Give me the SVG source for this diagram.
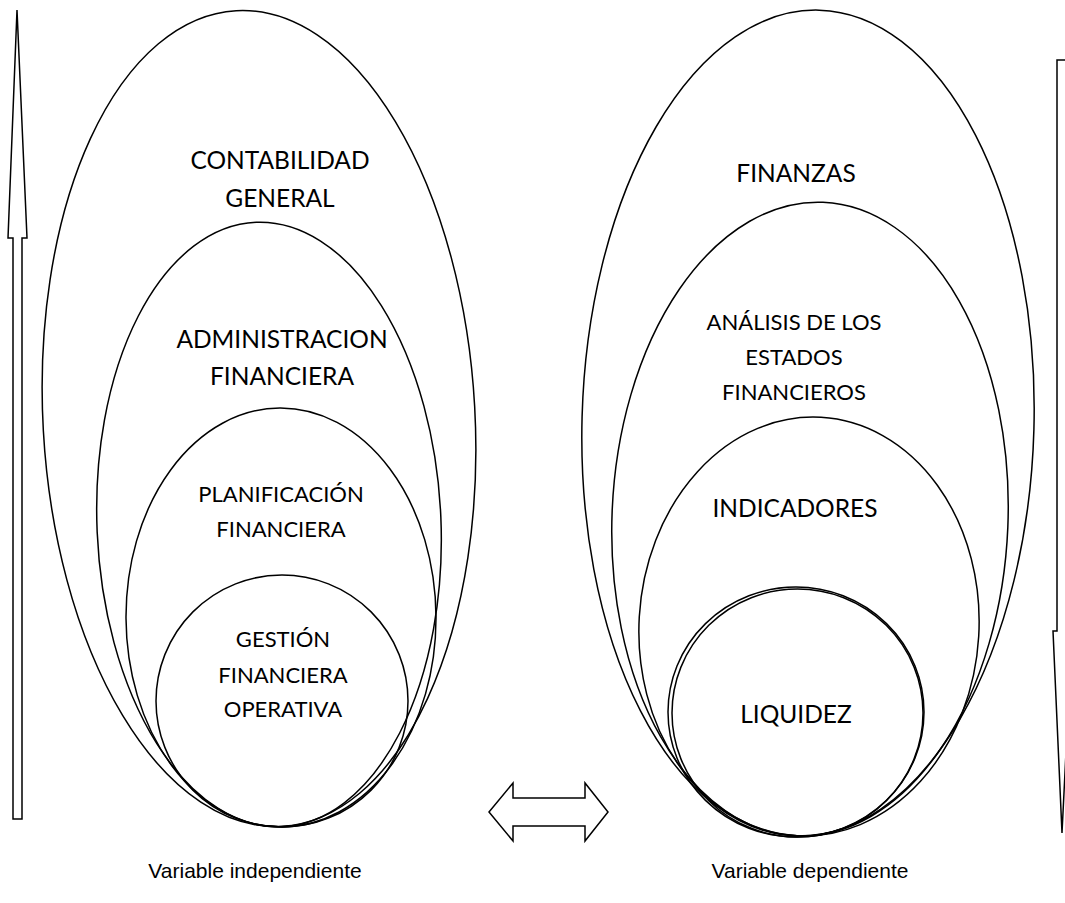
<svg xmlns="http://www.w3.org/2000/svg" width="1065" height="903" viewBox="0 0 1065 903">
<style>
.e{fill:none;stroke:#000;stroke-width:1.5}
.a{fill:#fff;stroke:#000;stroke-width:1.5;stroke-linejoin:miter}
.t{font-family:Lato,"Open Sans",sans-serif;fill:#000;text-anchor:middle}
.L{font-size:24.5px}
.S{font-size:22px}
.v{font-family:"Liberation Sans",Arial,sans-serif;font-size:21px;fill:#000;text-anchor:middle}
</style>
<rect width="1065" height="903" fill="#fff"/>
<g id="connectors">
<path class="a" d="M17,10 L27,238 L22,238 L22,819 L13,819 L13,238 L8,238 Z"/>
<path class="a" d="M1057,60 L1068,60 L1068,631 L1072,631 L1062,833 L1053,631 L1057,631 Z"/>
<path class="a" d="M489,812 L513,783 L513,798 L585,798 L585,783 L608,812 L585,841 L585,826 L513,826 L513,841 Z"/>
</g>
<g id="contabilidad">
<ellipse class="e" cx="259" cy="418.5" rx="216" ry="408.5" transform="rotate(-3.2 259 418.5)"/>
<text class="t L" x="280" y="169">CONTABILIDAD</text>
<text class="t L" x="280" y="207">GENERAL</text>
</g>
<g id="administracion">
<ellipse class="e" cx="269" cy="524.5" rx="172" ry="302.5" transform="rotate(-2.46 269 524.5)"/>
<text class="t L" x="282" y="348">ADMINISTRACION</text>
<text class="t L" x="282" y="385">FINANCIERA</text>
</g>
<g id="planificacion">
<ellipse class="e" cx="281" cy="617.5" rx="155" ry="209.5" transform="rotate(-0.3 281 617.5)"/>
<text class="t S" x="281" y="502">PLANIFICACIÓN</text>
<text class="t S" x="281" y="537">FINANCIERA</text>
</g>
<g id="gestion">
<circle class="e" cx="282" cy="701" r="126"/>
<text class="t S" x="283" y="647">GESTIÓN</text>
<text class="t S" x="283" y="683">FINANCIERA</text>
<text class="t S" x="283" y="717">OPERATIVA</text>
</g>
<g id="finanzas">
<ellipse class="e" cx="808" cy="423" rx="226" ry="413" transform="rotate(1.55 808 423)"/>
<text class="t L" x="796" y="182">FINANZAS</text>
</g>
<g id="analisis">
<ellipse class="e" cx="810" cy="519" rx="198" ry="317" transform="rotate(2.35 810 519)"/>
<text class="t S" x="794" y="330">ANÁLISIS DE LOS</text>
<text class="t S" x="794" y="365">ESTADOS</text>
<text class="t S" x="794" y="400">FINANCIEROS</text>
</g>
<g id="indicadores">
<ellipse class="e" cx="809" cy="626.5" rx="170" ry="209.5" transform="rotate(3.3 809 626.5)"/>
<text class="t L" x="795" y="517">INDICADORES</text>
</g>
<g id="liquidez">
<ellipse class="e" cx="796" cy="712" rx="128" ry="125"/>
<ellipse class="e" cx="797.5" cy="713" rx="125.5" ry="124"/>
<text class="t L" x="796" y="723">LIQUIDEZ</text>
</g>
<g id="labels">
<text class="v" x="255" y="878">Variable independiente</text>
<text class="v" x="810" y="878">Variable dependiente</text>
</g>
</svg>
